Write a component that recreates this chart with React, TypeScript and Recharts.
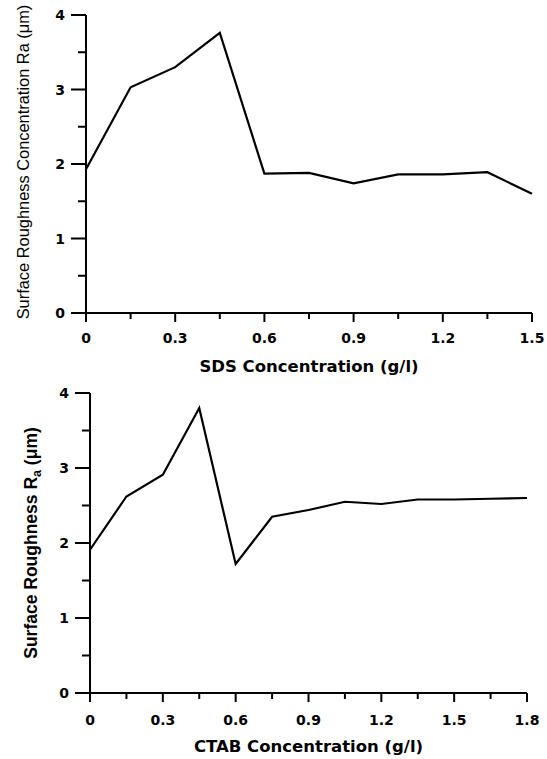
import React from 'react';
import { LineChart, Line, XAxis, YAxis, Label } from 'recharts';

// SDS panel (top)
const sdsConc = [0, 0.15, 0.3, 0.45, 0.6, 0.75, 0.9, 1.05, 1.2, 1.35, 1.5];
const sdsRa = [1.93, 3.03, 3.3, 3.76, 1.87, 1.88, 1.74, 1.86, 1.86, 1.89, 1.6];
const sdsLabels = [0, 0.3, 0.6, 0.9, 1.2, 1.5];

// CTAB panel (bottom)
const ctabConc = [0, 0.15, 0.3, 0.45, 0.6, 0.75, 0.9, 1.05, 1.2, 1.35, 1.5, 1.65, 1.8];
const ctabRa = [1.91, 2.62, 2.91, 3.8, 1.72, 2.35, 2.44, 2.55, 2.52, 2.58, 2.58, 2.59, 2.6];
const ctabLabels = [0, 0.3, 0.6, 0.9, 1.2, 1.5, 1.8];

const raTicks = [0, 0.5, 1, 1.5, 2, 2.5, 3, 3.5, 4];
const raLabels = [0, 1, 2, 3, 4];

const sdsData = sdsConc.map((c, i) => ({ c, ra: sdsRa[i] }));
const ctabData = ctabConc.map((c, i) => ({ c, ra: ctabRa[i] }));

const tickFont = { fontFamily: '"DejaVu Sans", sans-serif', fontWeight: 700, fontSize: 14, fill: '#000' };

const XTick = (props: any) => {
  const { x, y, payload, major, labelDy } = props;
  const isMajor = major.includes(payload.value);
  return (
    <g>
      <line x1={x} y1={y} x2={x} y2={y + (isMajor ? 9 : 6)} stroke="#000" strokeWidth={2} />
      {isMajor && (
        <text x={x} y={y + labelDy} textAnchor="middle" style={tickFont}>
          {String(payload.value)}
        </text>
      )}
    </g>
  );
};

const YTick = (props: any) => {
  const { x, y, payload } = props;
  const isMajor = raLabels.includes(payload.value);
  return (
    <g>
      <line x1={x} y1={y} x2={x - (isMajor ? 15 : 8)} y2={y} stroke="#000" strokeWidth={2} />
      {isMajor && (
        <text x={x - 21} y={y + 5} textAnchor="end" style={tickFont}>
          {String(payload.value)}
        </text>
      )}
    </g>
  );
};

const XTitle = (props: any) => {
  const { viewBox, text, dy } = props;
  return (
    <text
      x={viewBox.x + viewBox.width / 2}
      y={viewBox.y + dy}
      textAnchor="middle"
      style={{ fontFamily: '"DejaVu Sans", sans-serif', fontWeight: 700, fontSize: 16.5, fill: '#000' }}
    >
      {text}
    </text>
  );
};

const YTitleTop = (props: any) => {
  const { viewBox } = props;
  const cx = 29;
  const cy = viewBox.y + viewBox.height / 2 - 2;
  return (
    <text
      x={cx}
      y={cy}
      transform={`rotate(-90, ${cx}, ${cy})`}
      textAnchor="middle"
      style={{ fontFamily: '"Liberation Sans", Arial, sans-serif', fontSize: 16.4, fill: '#000' }}
    >
      Surface Roughness Concentration Ra (μm)
    </text>
  );
};

const YTitleBottom = (props: any) => {
  const { viewBox } = props;
  const cx = 37;
  const cy = viewBox.y + viewBox.height / 2;
  return (
    <text
      x={cx}
      y={cy}
      transform={`rotate(-90, ${cx}, ${cy})`}
      textAnchor="middle"
      style={{ fontFamily: '"Liberation Sans", Arial, sans-serif', fontWeight: 700, fontSize: 17.5, fill: '#000' }}
    >
      Surface Roughness R
      <tspan fontSize={12.5} dy={4}>a</tspan>
      <tspan dy={-4}> (μm)</tspan>
    </text>
  );
};

const axisLine = { stroke: '#000', strokeWidth: 2 };

export default function App() {
  return (
    <div style={{ position: 'absolute', left: 0, top: 0, width: 547, height: 759, background: '#fff' }}>
      <LineChart width={547} height={380} data={sdsData} margin={{ top: 15, right: 15, left: 0, bottom: 0 }}>
        <XAxis
          dataKey="c"
          type="number"
          domain={[0, 1.5]}
          ticks={sdsConc}
          interval={0}
          height={67}
          tickSize={0}
          tickMargin={0}
          axisLine={axisLine}
          tickLine={false}
          tick={<XTick major={sdsLabels} labelDy={30} />}
        >
          <Label content={<XTitle text="SDS Concentration (g/l)" dy={59} />} />
        </XAxis>
        <YAxis
          type="number"
          domain={[0, 4]}
          ticks={raTicks}
          interval={0}
          width={86}
          tickSize={0}
          tickMargin={0}
          axisLine={axisLine}
          tickLine={false}
          tick={<YTick />}
        >
          <Label content={<YTitleTop />} />
        </YAxis>
        <Line type="linear" dataKey="ra" stroke="#000" strokeWidth={2.2} dot={false} isAnimationActive={false} />
      </LineChart>
      <LineChart width={547} height={379} data={ctabData} margin={{ top: 13, right: 20, left: 0, bottom: 0 }}>
        <XAxis
          dataKey="c"
          type="number"
          domain={[0, 1.8]}
          ticks={ctabConc}
          interval={0}
          height={66}
          tickSize={0}
          tickMargin={0}
          axisLine={axisLine}
          tickLine={false}
          tick={<XTick major={ctabLabels} labelDy={32} />}
        >
          <Label content={<XTitle text="CTAB Concentration (g/l)" dy={59} />} />
        </XAxis>
        <YAxis
          type="number"
          domain={[0, 4]}
          ticks={raTicks}
          interval={0}
          width={90}
          tickSize={0}
          tickMargin={0}
          axisLine={axisLine}
          tickLine={false}
          tick={<YTick />}
        >
          <Label content={<YTitleBottom />} />
        </YAxis>
        <Line type="linear" dataKey="ra" stroke="#000" strokeWidth={2.2} dot={false} isAnimationActive={false} />
      </LineChart>
    </div>
  );
}
